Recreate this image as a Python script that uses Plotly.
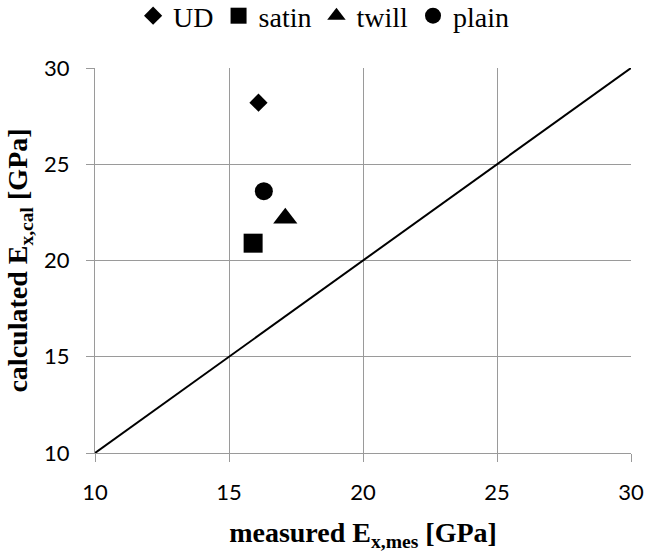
import plotly.graph_objects as go

# Data
series_names = ["UD", "satin", "twill", "plain"]
measured = [16.1, 15.9, 17.1, 16.3]
calculated = [28.2, 20.9, 22.2, 23.6]
symbols = ["diamond", "square", "triangle-up", "circle"]
marker_sizes = [14, 19, 21, 18]

diag_x = [10, 30]
diag_y = [10, 30]

tick_vals = [10, 15, 20, 25, 30]

fig = go.Figure()

for name, mx, cy, sym, sz in zip(series_names, measured, calculated, symbols, marker_sizes):
    fig.add_trace(go.Scatter(
        x=[mx], y=[cy], mode="markers", name=name,
        marker=dict(symbol=sym, size=sz, color="black", line=dict(width=0)),
    ))

fig.add_trace(go.Scatter(
    x=diag_x, y=diag_y, mode="lines", showlegend=False,
    line=dict(color="black", width=2),
))

axis_common = dict(
    range=[10, 30], tickvals=tick_vals, showgrid=True, gridcolor="#9a9a9a", gridwidth=1,
    showline=True, linecolor="#9a9a9a", linewidth=1, ticks="outside", ticklen=8,
    tickcolor="#9a9a9a", zeroline=False, mirror=False, automargin=False,
    tickfont=dict(family="Lato, Carlito, sans-serif", size=22, color="black"),
)

fig.update_layout(
    width=648, height=552,
    paper_bgcolor="white", plot_bgcolor="white",
    margin=dict(l=95, r=17, t=68, b=99, autoexpand=False),
    xaxis=dict(**axis_common, ticklabelstandoff=12,
               title=dict(text="<b>measured E<sub>x,mes</sub> [GPa]</b>",
                          font=dict(family="Liberation Serif", size=28, color="black"),
                          standoff=20)),
    yaxis=dict(**axis_common, ticklabelstandoff=12,
               title=dict(text="<b>calculated E<sub>x,cal</sub> [GPa]</b>",
                          font=dict(family="Liberation Serif", size=28, color="black"),
                          standoff=8)),
    legend=dict(orientation="h", x=0.4265, xanchor="center", y=1.20, yanchor="top",
                font=dict(family="Liberation Serif", size=28, color="black"),
                itemwidth=30, tracegroupgap=0, bgcolor="rgba(0,0,0,0)"),
    showlegend=True,
)

fig.write_html("out.html",
               config={"displayModeBar": False},
               post_script="document.body.style.margin='0px';document.body.style.padding='0px';")
